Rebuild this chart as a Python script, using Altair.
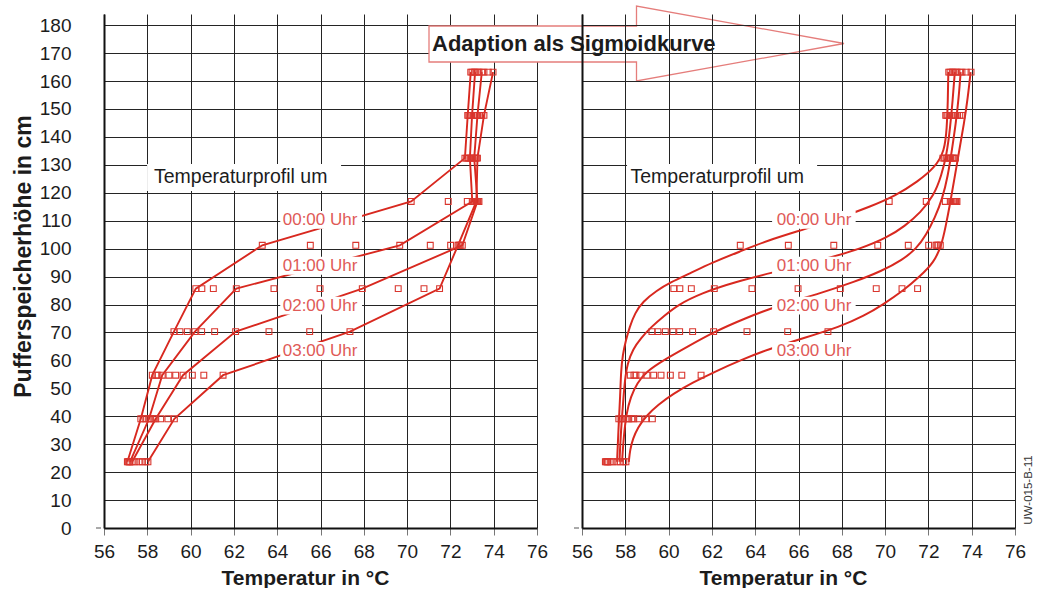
import altair as alt
import pandas as pd

# Sensor heights in the buffer tank (cm, bottom to top)
heights = [23.7, 39.1, 54.7, 70.3, 85.7, 101.2, 116.9, 132.4, 147.7, 163.2]

# Measured temperature profiles every 20 minutes (degC, bottom to top)
t_0000 = [57.08, 57.70, 58.23, 59.23, 60.24, 63.31, 70.19, 72.67, 72.80, 72.94]
t_0020 = [57.12, 57.80, 58.40, 59.51, 60.52, 65.53, 71.90, 72.75, 72.85, 73.00]
t_0040 = [57.18, 57.93, 58.49, 59.85, 61.05, 67.63, 72.78, 72.82, 72.90, 73.10]
t_0100 = [57.20, 58.08, 58.69, 60.20, 62.11, 69.66, 73.01, 72.90, 73.00, 73.14]
t_0120 = [57.43, 58.16, 59.00, 60.51, 63.85, 71.07, 73.10, 72.97, 73.10, 73.25]
t_0140 = [57.62, 58.30, 59.31, 61.11, 65.98, 72.01, 73.17, 73.03, 73.20, 73.32]
t_0200 = [57.30, 58.39, 59.65, 62.08, 67.93, 72.55, 73.25, 73.10, 73.25, 73.45]
t_0220 = [57.77, 58.62, 60.08, 63.62, 69.59, 72.45, 73.32, 73.15, 73.35, 73.55]
t_0240 = [57.93, 58.95, 60.61, 65.50, 70.78, 72.40, 73.28, 73.20, 73.45, 73.75]
t_0300 = [58.03, 59.25, 61.50, 67.36, 71.50, 72.35, 73.20, 73.25, 73.55, 73.97]

profile_names = ["00:00", "00:20", "00:40", "01:00", "01:20",
                 "01:40", "02:00", "02:20", "02:40", "03:00"]
profile_temps = [t_0000, t_0020, t_0040, t_0100, t_0120,
                 t_0140, t_0200, t_0220, t_0240, t_0300]

# Profiles that are drawn as polylines (left) and sigmoid curves (right)
line_profiles = ["00:00", "01:00", "02:00", "03:00"]

# Sigmoid curves, sampled along each curve (height cm, temperature degC)
fit_0000_h = [23.7, 35, 48, 56, 62, 67, 72, 77, 81, 85, 88, 91, 95, 99, 103,
              107, 111, 115, 119, 124, 129, 135, 143, 153, 163.2]
fit_0000_t = [57.62, 57.68, 57.77, 57.80, 57.88, 58.02, 58.20, 58.45, 58.80,
              59.45, 60.10, 60.95, 62.00, 63.30, 64.60, 66.30, 67.90, 69.30,
              70.50, 71.50, 72.30, 72.75, 72.85, 72.90, 72.92]
fit_0100_h = [23.7, 35, 45, 53, 59, 64, 68, 72, 76, 80, 84, 88, 92, 96, 100,
              104, 108, 113, 119, 126, 134, 143, 153, 163.2]
fit_0100_t = [57.73, 57.80, 57.90, 57.98, 58.10, 58.35, 58.72, 59.20, 59.80,
              60.45, 61.50, 63.00, 65.10, 67.10, 68.90, 70.10, 70.90, 71.65,
              72.25, 72.60, 72.85, 73.00, 73.12, 73.22]
fit_0200_h = [23.7, 33, 41, 47, 52, 56, 60, 65, 70, 75, 80, 84, 88, 92, 96,
              100, 105, 111, 118, 126, 135, 145, 154, 163.2]
fit_0200_t = [57.85, 57.93, 58.05, 58.25, 58.55, 58.98, 59.75, 60.90, 62.05,
              63.50, 65.20, 67.00, 68.55, 69.85, 70.80, 71.45, 71.90, 72.30,
              72.65, 72.90, 73.08, 73.27, 73.40, 73.49]
fit_0300_h = [23.7, 28, 32, 36, 40, 44, 48, 52, 56, 60, 64, 68, 72, 76, 80,
              85, 90, 95, 101, 108, 116, 125, 135, 145, 154, 163.2]
fit_0300_t = [58.16, 58.22, 58.35, 58.58, 58.95, 59.50, 60.20, 61.10, 62.15,
              63.30, 64.60, 66.25, 67.90, 69.05, 69.90, 70.85, 71.60, 72.25,
              72.60, 72.80, 73.00, 73.20, 73.42, 73.65, 73.82, 73.95]
fit_h = [fit_0000_h, fit_0100_h, fit_0200_h, fit_0300_h]
fit_t = [fit_0000_t, fit_0100_t, fit_0200_t, fit_0300_t]

x_ticks = list(range(56, 77, 2))
y_ticks = list(range(0, 181, 10))

time_labels = ["00:00 Uhr", "01:00 Uhr", "02:00 Uhr", "03:00 Uhr"]
header_label = "Temperaturprofil um"
arrow_label = "Adaption als Sigmoidkurve"
code_label = "UW-015-B-11"

# ---------------------------------------------------------------- tables
meas = pd.DataFrame(
    [{"profile": name, "h": h, "t": t}
     for name, temps in zip(profile_names, profile_temps)
     for h, t in zip(heights, temps)]
)
lines_df = meas[meas["profile"].isin(line_profiles)]
fit_df = pd.DataFrame(
    [{"profile": name, "h": h, "t": t}
     for name, hs, ts in zip(line_profiles, fit_h, fit_t)
     for h, t in zip(hs, ts)]
)

# ---------------------------------------------------------------- styling
FONT = "Liberation Sans"
LINE_RED = "#d8281f"
SQUARE_RED = "#d9362e"
LABEL_RED = "#e05a57"
INK = "#1c1c1c"

x_scale = alt.Scale(domain=[56, 76], nice=False, zero=False)
y_scale = alt.Scale(domain=[0, 184], nice=False, zero=False)

x_axis = alt.Axis(values=x_ticks, grid=True, tickSize=7, labelPadding=16,
                  labelBaseline="middle", labelOverlap=False, labelFlush=False,
                  titleX=201, titleY=50, titleAlign="center",
                  titleBaseline="middle", titleFontSize=21)
y_axis_left = alt.Axis(values=y_ticks, grid=True, ticks=False, tickSize=0,
                       labelPadding=33, labelOverlap=False, labelFlush=False,
                       titleX=-81, titleY=242, titleAngle=270,
                       titleAlign="center", titleBaseline="middle",
                       titleFontSize=23)
y_axis_right = alt.Axis(values=y_ticks, grid=True, ticks=False, tickSize=0,
                        labels=False)

X_TITLE = "Temperatur in °C"
Y_TITLE = "Pufferspeicherhöhe in cm"

# Arrow outline as a unit symbol path (scaled by sqrt(size) / 2)
ARROW_PATH = ("M-1,-0.0843 L0,-0.0843 L0,-0.1807 L1,0 L0,0.1807 "
              "L0,0.0892 L-1,0.0892 Z")


def panel(left):
    y_axis = y_axis_left if left else y_axis_right
    y_title = Y_TITLE if left else None

    def X(field):
        return alt.X(field, type="quantitative", scale=x_scale, axis=x_axis,
                     title=X_TITLE)

    def Y(field):
        return alt.Y(field, type="quantitative", scale=y_scale, axis=y_axis,
                     title=y_title)

    # label placement (data coordinates)
    if left:
        lbl_t, box_t0, box_t1 = 65.98, 64.14, 67.92
        hdr_t, hdr_t0, hdr_t1 = 58.31, 57.99, 66.95
    else:
        lbl_t, box_t0, box_t1 = 66.72, 64.78, 68.64
        hdr_t, hdr_t0, hdr_t1 = 58.24, 58.08, 66.86
    lbl_h = [110.3, 93.9, 79.6, 63.4]
    hdr_h = 125.6

    boxes = pd.DataFrame({
        "x0": [box_t0] * 4 + [hdr_t0],
        "x1": [box_t1] * 4 + [hdr_t1],
        "y0": [h - 3.2 for h in lbl_h] + [120.6],
        "y1": [h + 3.2 for h in lbl_h] + [130.3],
    })
    times = pd.DataFrame({"text": time_labels, "t": [lbl_t] * 4, "h": lbl_h})
    header = pd.DataFrame({"text": [header_label], "t": [hdr_t], "h": [hdr_h]})

    if left:
        profile_lines = alt.Chart(lines_df).mark_line(
            color=LINE_RED, strokeWidth=1.9
        ).encode(x=X("t"), y=Y("h"), detail="profile:N", order="h:Q")
    else:
        profile_lines = alt.Chart(fit_df).mark_line(
            color=LINE_RED, strokeWidth=2, interpolate="basis"
        ).encode(x=X("t"), y=Y("h"), detail="profile:N", order="h:Q")

    squares = alt.Chart(meas).mark_point(
        shape="square", size=34, filled=False, color=SQUARE_RED,
        strokeWidth=1.1, opacity=1
    ).encode(x=X("t"), y=Y("h"))

    box_layer = alt.Chart(boxes).mark_rect(color="white").encode(
        x=X("x0"), x2="x1", y=Y("y0"), y2="y1")

    time_text = alt.Chart(times).mark_text(
        align="center", baseline="middle", fontSize=17, font=FONT,
        color=LABEL_RED
    ).encode(x=X("t"), y=Y("h"), text="text:N")

    header_text = alt.Chart(header).mark_text(
        align="left", baseline="middle", fontSize=19.5, font=FONT, color=INK
    ).encode(x=X("t"), y=Y("h"), text="text:N")

    zero_tick = alt.Chart(pd.DataFrame({"k": [0]})).mark_rule(
        color="#555555", strokeWidth=1
    ).encode(x=alt.value(-8), x2=alt.value(-3), y=alt.value(514))

    layers = [profile_lines, squares, box_layer, time_text, header_text,
              zero_tick]

    one = pd.DataFrame({"k": [0]})
    if left:
        arrow = alt.Chart(one).mark_point(
            shape=ARROW_PATH, size=415 ** 2, filled=True, fill="white",
            stroke="#e57d7b", strokeWidth=1.3, opacity=1
        ).encode(x=alt.value(532.5), y=alt.value(29.5))
        arrow_text = alt.Chart(one).mark_text(
            align="left", baseline="middle", fontSize=22, font=FONT,
            fontWeight="bold", color=INK, text=arrow_label
        ).encode(x=alt.value(328), y=alt.value(30))
        layers += [arrow, arrow_text]
    else:
        code_text = alt.Chart(one).mark_text(
            align="center", baseline="middle", fontSize=11.5, font=FONT,
            color="#333333", angle=270, text=code_label
        ).encode(x=alt.value(447), y=alt.value(476))
        layers += [code_text]

    return alt.layer(*layers).properties(width=433, height=514)


chart = alt.hconcat(panel(True), panel(False), spacing=45, bounds="flush")
chart = chart.properties(
    padding={"left": 12, "top": 3, "right": 0, "bottom": 0},
    background="white",
).configure_view(
    stroke=None
).configure_axis(
    gridColor="#242424", gridWidth=1, gridOpacity=1,
    domainColor="#111111", domainWidth=2,
    tickColor="#777777", tickWidth=1,
    labelFont=FONT, labelFontSize=19, labelColor=INK,
    titleFont=FONT, titleFontSize=19, titleFontWeight="bold", titleColor=INK,
)

chart.save("out.html", embed_options={"renderer": "svg", "actions": False})
